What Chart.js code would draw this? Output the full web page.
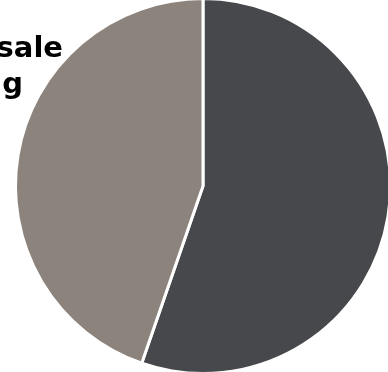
<!DOCTYPE html>
<html><head><meta charset="utf-8">
<script src="https://cdn.jsdelivr.net/npm/chart.js@4"></script>
<style>html,body{margin:0;padding:0;background:#fff;overflow:hidden;}#wrap{width:388px;height:372px;position:relative;overflow:hidden;}#c{position:absolute;left:0;top:-4px;}</style>
</head><body><div id="wrap"><canvas id="c" width="400" height="380"></canvas></div>
<script>
const categories = ["Segment A", "Segment B"];
const values = [55.3, 44.7];
const sliceColors = ["#47484c", "#8c837c"];
const titleLines = ["sale", "g"];

const titlePlugin = {
  id: 'clippedTitle',
  afterDraw(chart) {
    const ctx = chart.ctx;
    ctx.save();
    ctx.fillStyle = '#000';
    ctx.font = 'bold 29px "DejaVu Sans"';
    ctx.textAlign = 'right';
    ctx.textBaseline = 'alphabetic';
    ctx.fillText(titleLines[0], 63, 57 + 4);
    ctx.fillText(titleLines[1], 23, 93 + 4);
    ctx.restore();
  }
};

new Chart(document.getElementById('c'), {
  type: 'pie',
  data: {
    labels: categories,
    datasets: [{ data: values, backgroundColor: sliceColors, borderColor: '#ffffff', borderWidth: 3 }]
  },
  options: {
    responsive: false,
    animation: false,
    layout: { padding: { left: 14, right: 8, top: 1, bottom: 1 } },
    plugins: { legend: { display: false }, tooltip: { enabled: false }, title: { display: false } }
  },
  plugins: [titlePlugin]
});
</script></body></html>
